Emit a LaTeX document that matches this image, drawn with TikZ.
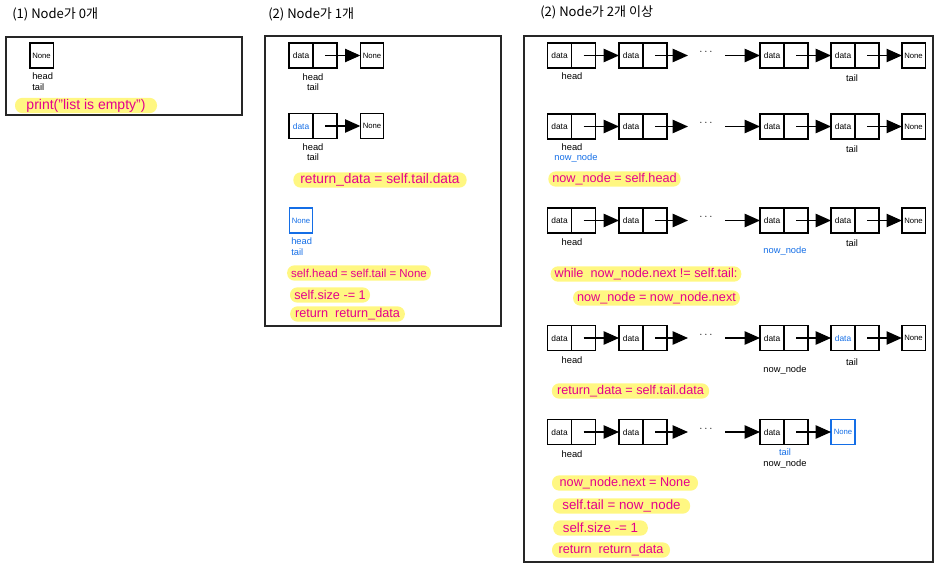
\documentclass[tikz,border=0pt]{standalone}
\usepackage{fontspec}
\setmainfont{Liberation Sans}
\newfontfamily\kr{Noto Sans CJK KR}
\usetikzlibrary{arrows.meta}
\definecolor{pk}{RGB}{228,0,140}
\definecolor{hly}{RGB}{255,247,130}
\definecolor{bl}{RGB}{20,110,230}
\newcommand\LLnode[4]{%
  \node[cell, text=#4] (#1d) at (#2,#3) {data};
  \node[cell, anchor=west] (#1p) at (#1d.east) {};
}
\newcommand\LLrow[2]{%
  \LLnode{#1a}{559.5}{#2}{black}
  \LLnode{#1b}{631}{#2}{black}
  \node[dotsn] (#1dots) at (706,{#2-3}) {$\cdots$};
  \coordinate (#1g1) at (688,#2);
  \coordinate (#1g2) at (725,#2);
  \LLnode{#1c}{772}{#2}{black}
  \draw[arr] (#1ap.center) -- (#1bd.west);
  \draw[arr] (#1bp.center) -- (#1g1);
  \draw[arr] (#1g2) -- (#1cd.west);
}
\begin{document}
\begin{tikzpicture}[x=0.75pt,y=-0.75pt,
  cell/.style={draw=black, line width=1pt, minimum width=18pt, minimum height=18.75pt, inner sep=0pt, outer sep=0pt, font=\fontsize{6.3}{7}\selectfont},
  nonebox/.style={cell, minimum width=17.5pt, font=\fontsize{5.8}{6}\selectfont},
  arr/.style={line width=1pt, -{Triangle[length=11.5pt,width=10pt]}},
  lbl/.style={font=\fontsize{7}{8}\selectfont, inner sep=0pt},
  dotsn/.style={font=\fontsize{8}{9}\selectfont, inner sep=0pt},
  code/.style={fill=hly, text=pk, rounded corners=5.5pt, inner xsep=3pt, inner ysep=0pt, minimum height=11.5pt, font=\fontsize{9.5}{10}\selectfont},
  title/.style={font=\kr\fontsize{9.8}{10}\selectfont, inner sep=0pt, anchor=west},
  panel/.style={draw=black!85, line width=1pt}]
\useasboundingbox (0,0) rectangle (944,570);

% ---------- panel 1 ----------
\node[title] (t1) at (12,14) {(1) Node가 0개};
\draw[panel] (6,37) rectangle (242,115);
\node[nonebox] (e0) at (41.5,55.5) {None};
\node[lbl, anchor=west] (e0h) at (32,76) {head};
\node[lbl, anchor=west] (e0t) at (32,87) {tail};
\node[code, minimum width=106.5pt, font=\fontsize{10.5}{11}\selectfont] (c0) at (86,105.5) {print("list is empty")};

% ---------- panel 2 ----------
\node[title] (t2) at (268,14) {(2) Node가 1개};
\draw[panel] (265,36) rectangle (501,326);
\LLnode{a}{301}{55.5}{black}
\node[nonebox] (an) at (372,55.5) {None};
\draw[arr] (ap.center) -- (an.west);
\node[lbl] (ah) at (313,77) {head};
\node[lbl] (at) at (313,87) {tail};
\LLnode{b}{301}{126}{bl}
\node[nonebox] (bn) at (372,126) {None};
\draw[arr] (bp.center) -- (bn.west);
\node[lbl] (bh) at (313,147) {head};
\node[lbl] (bt) at (313,157) {tail};
\node[code, minimum width=130pt, font=\fontsize{10.3}{11}\selectfont] (c1) at (380,180) {return\_data = self.tail.data};
\node[nonebox, draw=bl, text=bl] (cn) at (301,220.5) {None};
\node[lbl, anchor=west, text=bl] (ch) at (291,241) {head};
\node[lbl, anchor=west, text=bl] (ct) at (291,252) {tail};
\node[code, minimum width=103.5pt, font=\fontsize{8.6}{10}\selectfont] (c2) at (359,273) {self.head = self.tail = None};
\node[code, minimum width=60pt] (c3) at (330,295) {self.size -= 1};
\node[code, minimum width=86pt] (c4) at (347.5,314) {return\ \ return\_data};

% ---------- panel 3 ----------
\node[title] (t3) at (540,12) {(2) Node가 2개 이상};
\draw[panel] (524,36) rectangle (933,562);

% row 1
\LLrow{r}{55.5}
\LLnode{rd}{843}{55.5}{black}
\node[nonebox] (rn) at (913.5,55.5) {None};
\draw[arr] (rcp.center) -- (rdd.west);
\draw[arr] (rdp.center) -- (rn.west);
\node[lbl] (rh) at (572,76) {head};
\node[lbl] (rt) at (852,78) {tail};

% row 2
\LLrow{s}{126.5}
\LLnode{sd}{843}{126.5}{black}
\node[nonebox] (sn) at (913.5,126.5) {None};
\draw[arr] (scp.center) -- (sdd.west);
\draw[arr] (sdp.center) -- (sn.west);
\node[lbl] (sh) at (572,147) {head};
\node[lbl, text=bl] (sw) at (576,158) {now\_node};
\node[lbl] (st) at (852,149) {tail};
\node[code, minimum width=97pt] (s1) at (614.5,179) {now\_node = self.head};

% row 3
\LLrow{u}{220.5}
\LLnode{ud}{843}{220.5}{black}
\node[nonebox] (un) at (913.5,220.5) {None};
\draw[arr] (ucp.center) -- (udd.west);
\draw[arr] (udp.center) -- (un.west);
\node[lbl] (uh) at (572,242) {head};
\node[lbl] (ut) at (852,243) {tail};
\node[lbl, text=bl] (uw) at (785,251) {now\_node};
\node[code, minimum width=141pt] (u1) at (646,274) {while\ \ now\_node.next != self.tail:};
\node[code, minimum width=122pt] (u2) at (656.5,298) {now\_node = now\_node.next};

% row 4
\LLrow{v}{338}
\LLnode{vd}{843}{338}{bl}
\node[nonebox] (vn) at (913.5,338) {None};
\draw[arr] (vcp.center) -- (vdd.west);
\draw[arr] (vdp.center) -- (vn.west);
\node[lbl] (vh) at (572,360) {head};
\node[lbl] (vt) at (852,362) {tail};
\node[lbl] (vw) at (785,370) {now\_node};
\node[code, minimum width=118pt] (v1) at (630.5,391) {return\_data = self.tail.data};

% row 5
\LLrow{w}{432}
\node[nonebox, draw=bl, text=bl, minimum width=18pt] (wn) at (843,432) {None};
\draw[arr] (wcp.center) -- (wn.west);
\node[lbl] (wh) at (572,454) {head};
\node[lbl, text=bl] (wt) at (785,452) {tail};
\node[lbl] (ww) at (785,464) {now\_node};
\node[code, minimum width=109.5pt] (w1) at (625,483) {now\_node.next = None};
\node[code, minimum width=103pt, font=\fontsize{10}{11}\selectfont] (w2) at (621.5,506) {self.tail = now\_node};
\node[code, minimum width=71pt, font=\fontsize{10}{11}\selectfont] (w3) at (600.5,528) {self.size -= 1};
\node[code, minimum width=88.5pt] (w4) at (611,550) {return\ \ return\_data};
\end{tikzpicture}
\end{document}
